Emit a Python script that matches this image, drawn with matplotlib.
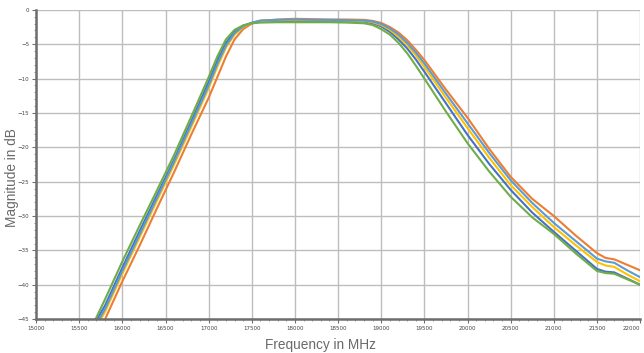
import matplotlib
matplotlib.use("Agg")
import matplotlib.pyplot as plt
from matplotlib.ticker import MultipleLocator

# =========================
# DATA
# =========================

FREQ = [15500, 15800, 16000, 16200, 16400, 16600, 16800, 17000, 17100, 17200,
        17300, 17400, 17500, 17600, 17800, 18000, 18200, 18400, 18600, 18800,
        18900, 19000, 19100, 19200, 19300, 19400, 19500, 19750, 20000, 20250,
        20500, 20750, 21000, 21250, 21500, 21600, 21700, 21850, 22000]

BLUE = [-49.5, -43.0, -37.5, -32.2, -27.0, -21.8, -16.2, -10.5, -7.4, -4.8,
        -3.2, -2.3, -1.9, -1.7, -1.65, -1.6, -1.6, -1.65, -1.65, -1.7,
        -1.95, -2.4, -3.2, -4.3, -5.6, -7.2, -9.0, -13.6, -18.2, -22.4,
        -26.2, -29.5, -32.3, -35.0, -37.7, -38.1, -38.2, -39.1, -40.0]

ORANGE = [-52.5, -45.0, -39.5, -34.3, -28.9, -23.6, -18.1, -12.8, -9.8, -6.8,
          -4.3, -2.8, -2.0, -1.6, -1.4, -1.3, -1.35, -1.4, -1.4, -1.45,
          -1.6, -1.9, -2.5, -3.3, -4.4, -5.8, -7.3, -11.6, -15.7, -20.2,
          -24.3, -27.5, -30.0, -32.8, -35.4, -36.1, -36.3, -37.1, -37.9]

YELLOW = [-50.8, -43.9, -38.4, -33.1, -27.8, -22.5, -17.0, -11.4, -8.3, -5.5,
          -3.6, -2.5, -1.9, -1.6, -1.5, -1.45, -1.5, -1.5, -1.55, -1.6,
          -1.8, -2.2, -2.9, -3.9, -5.1, -6.6, -8.3, -12.8, -17.2, -21.5,
          -25.5, -28.7, -31.6, -34.2, -36.7, -37.2, -37.4, -38.5, -39.5]

LIGHTBLUE = [-50.2, -43.5, -38.0, -32.7, -27.4, -22.1, -16.6, -11.0, -7.9, -5.2,
             -3.4, -2.4, -1.85, -1.55, -1.45, -1.4, -1.45, -1.45, -1.5, -1.55,
             -1.7, -2.05, -2.7, -3.6, -4.8, -6.2, -7.8, -12.2, -16.5, -20.8,
             -24.8, -28.1, -31.0, -33.6, -36.2, -36.6, -36.8, -37.9, -38.9]

GREEN = [-50.0, -42.1, -36.6, -31.4, -26.3, -21.1, -15.5, -9.8, -6.8, -4.3,
         -2.9, -2.25, -1.95, -1.85, -1.8, -1.8, -1.8, -1.8, -1.85, -1.95,
         -2.2, -2.8, -3.6, -4.8, -6.3, -8.1, -10.0, -14.8, -19.4, -23.5,
         -27.2, -30.2, -32.6, -35.4, -38.0, -38.3, -38.4, -39.2, -40.0]

X_TICKS = list(range(15000, 22001, 500))
Y_TICKS = list(range(0, -46, -5))

SERIES = [
    (BLUE, "#4472C4"),
    (ORANGE, "#ED7D31"),
    (YELLOW, "#FFC000"),
    (LIGHTBLUE, "#5B9BD5"),
    (GREEN, "#70AD47"),
]

# =========================
# PLOT
# =========================

fig = plt.figure(figsize=(6.44, 3.53), dpi=100)
ax = fig.add_axes([0.056, 0.096, 0.938, 0.876])

for values, color in SERIES:
    ax.plot(FREQ, values, color=color, linewidth=1.5, solid_capstyle="round")

ax.set_xlim(15000, 22000)
ax.set_ylim(-45, 0)
ax.set_xticks(X_TICKS)
ax.set_yticks(Y_TICKS)
ax.xaxis.set_minor_locator(MultipleLocator(100))
ax.yaxis.set_minor_locator(MultipleLocator(1))

ax.grid(True, which="major", color="#bdbdbd", linewidth=1.0)
ax.set_axisbelow(True)

for side in ("top", "right"):
    ax.spines[side].set_visible(False)
for side in ("left", "bottom"):
    ax.spines[side].set_color("#6e6e6e")
    ax.spines[side].set_linewidth(1.8)

ax.tick_params(which="major", labelsize=4, colors="#6e6e6e",
               labelcolor="#444444", length=3, width=0.8, pad=2)
ax.tick_params(which="minor", colors="#8a8a8a", length=1.5, width=0.6)

# keep the last x tick label inside the canvas
ax.get_xticklabels()[-1].set_horizontalalignment("right")

# axis titles placed in figure coords so they stay inside the canvas
fig.text(0.497, 0.012, "Frequency in MHz", fontsize=9.8, color="#6a6a6a",
         family="Liberation Sans", ha="center", va="baseline")
fig.text(0.018, 0.496, "Magnitude in dB", fontsize=9.8, color="#6a6a6a",
         family="Liberation Sans", ha="center", va="center", rotation=90)

fig.savefig("out.png", dpi=100, facecolor="white")
